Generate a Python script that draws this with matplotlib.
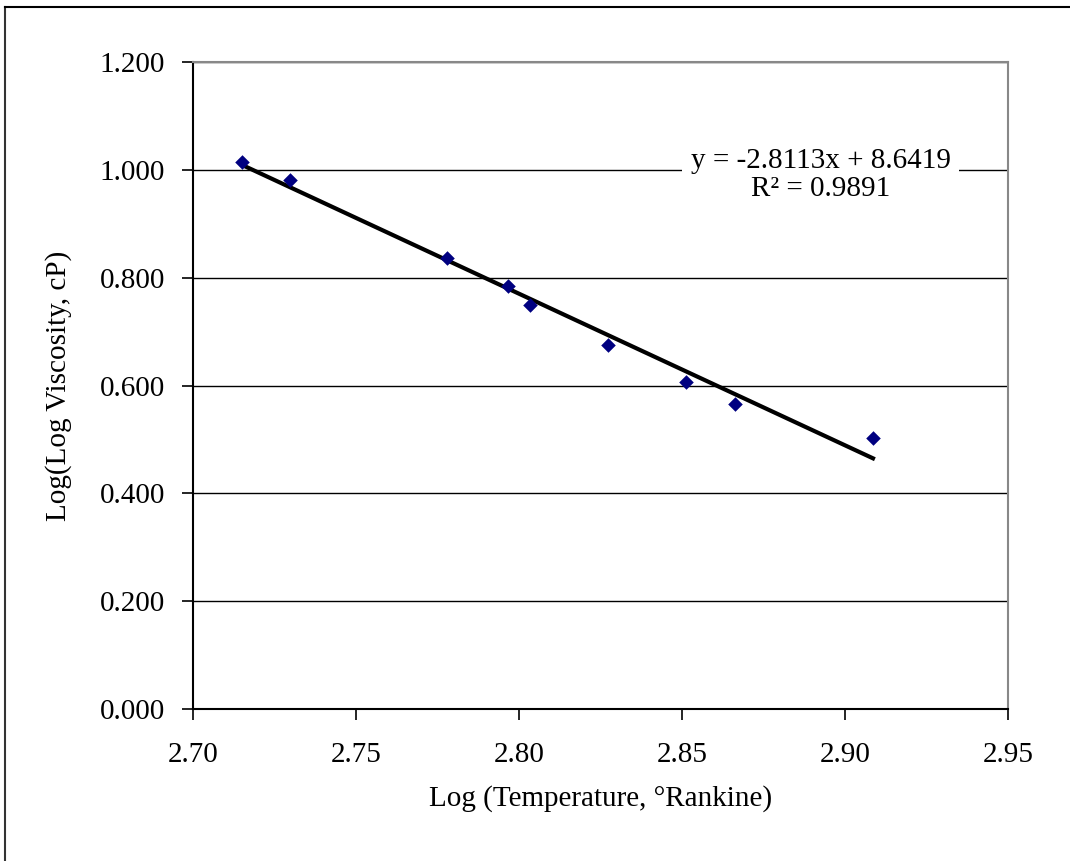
import matplotlib
matplotlib.use("Agg")
import matplotlib.pyplot as plt
from matplotlib.lines import Line2D

# data
logT = [2.715, 2.7298, 2.778, 2.7966, 2.8034, 2.8273, 2.8512, 2.8663, 2.9086]
logLogVisc = [1.0145, 0.981, 0.836, 0.785, 0.749, 0.675, 0.606, 0.566, 0.503]

slope = -2.8113
intercept = 8.6419
r2 = 0.9891

xticks = [2.70, 2.75, 2.80, 2.85, 2.90, 2.95]
yticks = [0.0, 0.2, 0.4, 0.6, 0.8, 1.0, 1.2]

plt.rcParams['font.family'] = ['Liberation Serif', 'DejaVu Serif']

fig = plt.figure(figsize=(10.7, 8.61), dpi=100)
ax = fig.add_axes([0.1804, 0.1765, 0.7616, 0.7515])

# outer frame (left and top edges only visible)
fig.add_artist(Line2D([0.0047, 0.0047], [0, 0.992], transform=fig.transFigure,
                      color='#333333', lw=1.5))
fig.add_artist(Line2D([0.0047, 1.0], [0.992, 0.992], transform=fig.transFigure,
                      color='black', lw=1.5))

ax.set_xlim(2.70, 2.95)
ax.set_ylim(0.0, 1.2)
ax.set_xticks(xticks)
ax.set_yticks(yticks)
ax.set_xticklabels(['%.2f' % v for v in xticks])
ax.set_yticklabels(['%.3f' % v for v in yticks])
ax.tick_params(direction='out', length=8, width=1.2, labelsize=21, colors='black',
               pad=12)
ax.tick_params(axis='x', pad=16)

ax.grid(axis='y', color='black', lw=1.0)
ax.set_axisbelow(True)

for s in ['left', 'bottom']:
    ax.spines[s].set_color('black')
    ax.spines[s].set_linewidth(1.5)
for s in ['top', 'right']:
    ax.spines[s].set_color('#888888')
    ax.spines[s].set_linewidth(1.5)

# trendline over data range
x0, x1 = min(logT), max(logT)
ax.plot([x0, x1], [slope * x0 + intercept, slope * x1 + intercept],
        color='black', lw=3, zorder=3)

ax.scatter(logT, logLogVisc, marker='D', s=55, color='#000080', zorder=4,
           linewidths=0)

ax.text(2.8925, 0.99, 'y = -2.8113x + 8.6419\nR\u00b2 = 0.9891',
        ha='center', va='center', fontsize=21, linespacing=1.1,
        bbox=dict(facecolor='white', edgecolor='none', pad=6), zorder=5)

ax.set_xlabel('Log (Temperature, \u00b0Rankine)', fontsize=21, labelpad=12)
ax.set_ylabel('Log(Log Viscosity, cP)', fontsize=21, labelpad=20)

fig.savefig('out.png', dpi=100)
